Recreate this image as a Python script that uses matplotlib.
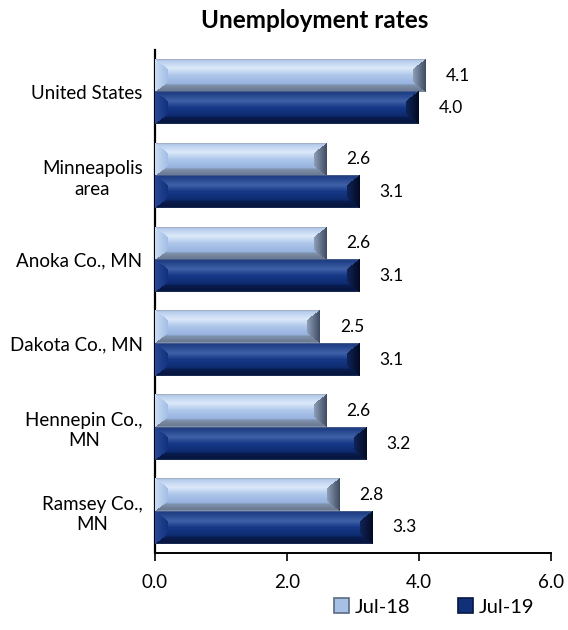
import numpy as np
import matplotlib
matplotlib.use("Agg")
import matplotlib.pyplot as plt
from matplotlib.colors import to_rgb
from matplotlib.patches import Patch

plt.rcParams['font.family'] = ['Lato', 'DejaVu Sans']

categories = ["United States", "Minneapolis\narea", "Anoka Co., MN",
              "Dakota Co., MN", "Hennepin Co.,\nMN", "Ramsey Co.,\nMN"]
jul18 = [4.1, 2.6, 2.6, 2.5, 2.6, 2.8]
jul19 = [4.0, 3.1, 3.1, 3.1, 3.2, 3.3]
series_names = ["Jul-18", "Jul-19"]
xticks = [0.0, 2.0, 4.0, 6.0]

W, H = 568, 630
fig = plt.figure(figsize=(W / 100, H / 100), dpi=100)
ax = fig.add_axes([155 / W, 1 - 553 / H, 396 / W, 503 / H])

styles = {
    "light": dict(
        vstops=[0.0, 0.05, 0.28, 0.5, 0.74, 0.8, 0.95, 1.0],
        vcols=["#9AA6B6", "#B6CCEC", "#DCE9F9", "#ADC6EA", "#97B3DF",
               "#7F90AA", "#6A7A92", "#8C9AAE"],
        left=("#CADCF4", "#A2BEE6"), right=("#8E9FB8", "#3E4A60"),
        base="#A6C0E6", edge="#5B6B82"),
    "dark": dict(
        vstops=[0.0, 0.05, 0.3, 0.5, 0.74, 0.8, 0.95, 1.0],
        vcols=["#56688E", "#1D3C84", "#3F61A8", "#163886", "#0E2B70",
               "#0A1D50", "#06153E", "#22345C"],
        left=("#28499A", "#12327C"), right=("#10255A", "#030A22"),
        base="#12307A", edge="#061640"),
}


def bevel_img(w_px, h_px, st):
    nx = max(int(round(w_px)), 4)
    ny = max(int(round(h_px)), 4)
    X, Y = np.meshgrid(np.arange(nx) + 0.5, np.arange(ny) + 0.5)
    t = Y / ny
    img = np.zeros((ny, nx, 3))
    vc = np.array([to_rgb(c) for c in st["vcols"]])
    for k in range(3):
        img[..., k] = np.interp(t, st["vstops"], vc[:, k])
    bv = 0.3 * ny           # vertical bevel thickness
    bx = min(13.0, nx / 2)  # horizontal bevel width
    dmin_v = np.minimum(Y, ny - Y)
    frac = np.clip(dmin_v / bv, 0, 1)
    # left end
    dl = X
    mask_l = dl < bx * frac
    c0, c1 = np.array(to_rgb(st["left"][0])), np.array(to_rgb(st["left"][1]))
    s = np.clip(dl / bx, 0, 1)[..., None]
    limg = c0 * (1 - s) + c1 * s
    img[mask_l] = limg[mask_l]
    # right end
    dr = nx - X
    mask_r = dr < bx * frac
    c0, c1 = np.array(to_rgb(st["right"][0])), np.array(to_rgb(st["right"][1]))
    s = np.clip(1 - dr / bx, 0, 1)[..., None]
    rimg = c0 * (1 - s) + c1 * s
    img[mask_r] = rimg[mask_r]
    return img


px_per_unit = 396 / 6.0
px_per_y = 503 / 6.0
h = 0.388
y = np.arange(len(categories))
offsets = [-h / 2, h / 2]
for vals, off, sname, key in zip([jul18, jul19], offsets, series_names, ["light", "dark"]):
    st = styles[key]
    bars = ax.barh(y + off, vals, height=h, color=st["base"], zorder=2)
    for bar, v in zip(bars, vals):
        x0 = bar.get_x()
        w = bar.get_width()
        yc = bar.get_y() + bar.get_height() / 2
        img = bevel_img(w * px_per_unit, h * px_per_y, st)
        ax.imshow(img, extent=(x0, x0 + w, yc + h / 2, yc - h / 2),
                  aspect='auto', interpolation='bilinear', zorder=3)
        ax.text(x0 + w + 0.3, yc, f"{v:.1f}", va='center', ha='left',
                fontsize=12.5, color='black', zorder=4)

ax.set_xlim(0, 6)
ax.set_ylim(len(categories) - 0.5, -0.5)
ax.set_xticks(xticks)
ax.set_xticklabels([f"{v:.1f}" for v in xticks], fontsize=13.5)
ax.set_yticks(y)
ax.set_yticklabels(categories, fontsize=13.5, multialignment='center', linespacing=1.25)
ax.tick_params(axis='y', length=0, pad=9)
ax.tick_params(axis='x', direction='out', length=6, width=1.2, pad=9)
for s in ['top', 'right']:
    ax.spines[s].set_visible(False)
ax.spines['left'].set_linewidth(1.6)
ax.spines['bottom'].set_linewidth(1.4)

fig.text(315 / W, 1 - 21 / H, "Unemployment rates",
         ha='center', va='center', fontsize=17.5, fontweight='bold')

handles = [Patch(facecolor=styles["light"]["base"], edgecolor=styles["light"]["edge"], linewidth=1.2),
           Patch(facecolor=styles["dark"]["base"], edgecolor=styles["dark"]["edge"], linewidth=1.2)]
fig.legend(handles, series_names, loc='center', bbox_to_anchor=(434 / W, 1 - 607 / H),
           ncol=2, frameon=False, fontsize=14.5, handlelength=0.75, handleheight=0.75,
           handletextpad=0.25, columnspacing=2.4)

fig.savefig("out.png", dpi=100)
